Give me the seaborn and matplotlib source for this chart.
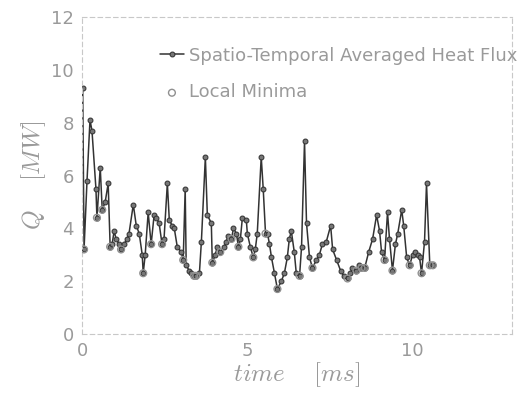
import numpy as np
import pandas as pd
import matplotlib
matplotlib.use("Agg")
import matplotlib.pyplot as plt
import seaborn as sns

time_ms = [0.02, 0.06, 0.15, 0.24, 0.30, 0.42, 0.45, 0.55, 0.61, 0.70, 0.79, 0.85,
           0.91, 0.97, 1.03, 1.12, 1.18, 1.27, 1.36, 1.42, 1.55, 1.64, 1.73, 1.82,
           1.85, 1.91, 2.00, 2.09, 2.18, 2.24, 2.33, 2.42, 2.48, 2.58, 2.64, 2.73,
           2.79, 2.88, 3.00, 3.06, 3.12, 3.15, 3.24, 3.30, 3.39, 3.45, 3.55, 3.61,
           3.73, 3.79, 3.91, 3.94, 4.03, 4.09, 4.18, 4.30, 4.36, 4.42, 4.52, 4.58,
           4.67, 4.73, 4.79, 4.85, 4.97, 5.00, 5.09, 5.18, 5.24, 5.30, 5.42, 5.48,
           5.55, 5.61, 5.67, 5.73, 5.82, 5.91, 6.03, 6.12, 6.21, 6.27, 6.33, 6.42,
           6.48, 6.58, 6.64, 6.73, 6.79, 6.88, 6.97, 7.09, 7.18, 7.27, 7.39, 7.52,
           7.58, 7.70, 7.82, 7.91, 8.03, 8.12, 8.18, 8.30, 8.39, 8.45, 8.55, 8.67,
           8.79, 8.91, 9.00, 9.06, 9.15, 9.24, 9.30, 9.39, 9.48, 9.55, 9.67, 9.73,
           9.82, 9.91, 10.00, 10.06, 10.15, 10.21, 10.27, 10.36, 10.42, 10.52, 10.61]

heat_flux = [9.3, 3.2, 5.8, 8.1, 7.7, 5.5, 4.4, 6.3, 4.7, 5.0, 5.7, 3.3,
             3.4, 3.9, 3.6, 3.4, 3.2, 3.4, 3.6, 3.8, 4.9, 4.1, 3.8, 3.0,
             2.3, 3.0, 4.6, 3.4, 4.5, 4.4, 4.2, 3.4, 3.6, 5.7, 4.3, 4.1,
             4.0, 3.3, 3.1, 2.8, 5.5, 2.6, 2.4, 2.3, 2.2, 2.2, 2.3, 3.5,
             6.7, 4.5, 4.2, 2.7, 3.0, 3.3, 3.1, 3.3, 3.5, 3.7, 3.6, 4.0,
             3.8, 3.3, 3.6, 4.4, 4.3, 3.8, 3.3, 2.9, 3.2, 3.8, 6.7, 5.5,
             3.8, 3.8, 3.4, 2.9, 2.3, 1.7, 2.0, 2.3, 2.9, 3.6, 3.9, 3.1,
             2.3, 2.2, 3.3, 7.3, 4.2, 2.9, 2.5, 2.8, 3.0, 3.4, 3.5, 4.1,
             3.2, 2.8, 2.4, 2.2, 2.1, 2.3, 2.5, 2.4, 2.6, 2.5, 2.5, 3.1,
             3.6, 4.5, 3.9, 3.1, 2.8, 4.6, 3.6, 2.4, 3.4, 3.8, 4.7, 4.1,
             2.9, 2.6, 3.0, 3.1, 3.0, 2.9, 2.3, 3.5, 5.7, 2.6, 2.6]

x_ticks = [0, 5, 10]
y_ticks = [0, 2, 4, 6, 8, 10, 12]

df = pd.DataFrame({"t": time_ms, "Q": heat_flux})
q = np.array(heat_flux)
is_min = np.zeros(len(q), dtype=bool)
for i in range(len(q)):
    left = q[i - 1] if i > 0 else np.inf
    right = q[i + 1] if i < len(q) - 1 else np.inf
    is_min[i] = q[i] <= left and q[i] <= right
df_min = df[is_min]

sns.set_style("white")
plt.rcParams["mathtext.fontset"] = "cm"
plt.rcParams["font.family"] = ["DejaVu Sans"]

text_col = "#9a9a9a"
fig = plt.figure(figsize=(5.26, 3.98), dpi=100)
ax = fig.add_axes([0.156, 0.161, 0.817, 0.796])

sns.lineplot(data=df, x="t", y="Q", ax=ax, color="#333333", lw=1.1,
             marker="o", markersize=3.5, markeredgecolor="#333333",
             markerfacecolor="#777777", label="Spatio-Temporal Averaged Heat Flux",
             sort=False, estimator=None)
sns.scatterplot(data=df_min, x="t", y="Q", ax=ax, s=24, facecolor="none",
                edgecolor="#909090", linewidth=1.0, marker="o",
                label="Local Minima", zorder=3)

ax.set_xlim(0, 13)
ax.set_ylim(0, 12)
ax.set_xticks(x_ticks)
ax.set_yticks(y_ticks)
ax.tick_params(axis="both", colors=text_col, labelsize=13, length=0, pad=6)
for s in ax.spines.values():
    s.set_linestyle((0, (4, 3)))
    s.set_color("#c8c8c8")
    s.set_linewidth(0.8)

ax.set_xlabel(r"$time\quad\ [ms]$", color=text_col, fontsize=18, labelpad=0)
ax.set_ylabel(r"$Q\quad\ [MW]$", color=text_col, fontsize=18, labelpad=2)

leg = ax.legend(loc="upper left", bbox_to_anchor=(0.165, 0.93),
                frameon=False, fontsize=13, labelspacing=1.05,
                handlelength=1.3, handletextpad=0.3, borderaxespad=0.0)
for t in leg.get_texts():
    t.set_color(text_col)

fig.savefig("out.png", dpi=100)
